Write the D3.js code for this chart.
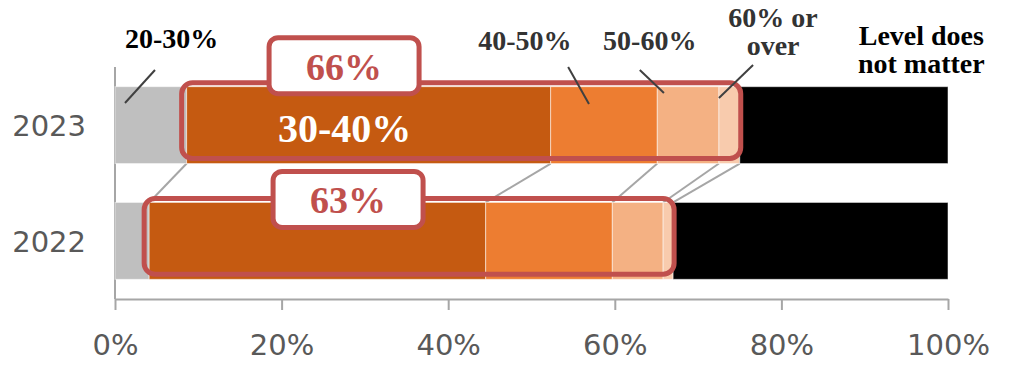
<!DOCTYPE html>
<html>
<head>
<meta charset="utf-8">
<script src="https://cdn.jsdelivr.net/npm/d3@7"></script>
<style>
  body { margin: 0; background: #fff; }
  svg { display: block; }
</style>
</head>
<body>
<div id="chart"></div>
<script>
const years = ["2023", "2022"];
const levels = ["20-30%", "30-40%", "40-50%", "50-60%", "60% or over", "Level does not matter"];
const share2023 = [8.6, 43.7, 12.8, 7.4, 2.5, 25.0];
const share2022 = [4.1, 40.4, 15.2, 6.1, 1.2, 33.0];
const totals = ["66%", "63%"];
const colors = ["#bfbfbf", "#c55a11", "#ed7d31", "#f4b183", "#f8cbad", "#000000"];
const tickValues = [0, 20, 40, 60, 80, 100];

const w = 1022;
const h = 366;

const svg = d3.select("#chart").append("svg")
  .attr("width", w)
  .attr("height", h);

// rows for the stack
const rows = years.map((yr, i) => {
  const vals = i === 0 ? share2023 : share2022;
  const row = { year: yr };
  levels.forEach((l, j) => row[l] = vals[j]);
  return row;
});
const series = d3.stack().keys(levels)(rows);

const x = d3.scaleLinear().domain([0, 100]).range([115, 948]);
const y = d3.scaleBand().domain(years).range([67, 299])
  .paddingInner(0.336).paddingOuter(0.17);

///////////////////////////// Axes

svg.append("line")
  .attr("x1", x(0)).attr("x2", x(0))
  .attr("y1", 67).attr("y2", 299)
  .attr("stroke", "#a6a6a6").attr("stroke-width", 2);

const xAxis = svg.append("g")
  .attr("transform", "translate(0,299)")
  .call(d3.axisBottom(x).tickValues(tickValues).tickSize(11).tickSizeOuter(0)
    .tickFormat(d => d + "%"));
xAxis.select(".domain").attr("stroke", "#a6a6a6").attr("stroke-width", 2);
xAxis.selectAll(".tick line").attr("stroke", "#a6a6a6").attr("stroke-width", 2);
xAxis.selectAll(".tick text")
  .attr("y", 56).attr("dy", null)
  .attr("fill", "#595959")
  .style("font-family", "'DejaVu Sans', Verdana, sans-serif")
  .style("font-size", "29px");

svg.append("g").selectAll("text")
  .data(years)
  .join("text")
  .attr("x", 86)
  .attr("y", d => y(d) + y.bandwidth() / 2 + 11)
  .attr("text-anchor", "end")
  .attr("fill", "#595959")
  .style("font-family", "'DejaVu Sans', Verdana, sans-serif")
  .style("font-size", "29px")
  .text(d => d);

///////////////////////////// Series lines between the bars

const seriesLines = d3.range(1, levels.length).map(k => ({
  a: series[k - 1][0][1],
  b: series[k - 1][1][1]
}));
svg.append("g").selectAll("line")
  .data(seriesLines)
  .join("line")
  .attr("x1", d => x(d.a))
  .attr("y1", y("2023") + y.bandwidth())
  .attr("x2", d => x(d.b))
  .attr("y2", y("2022"))
  .attr("stroke", "#a6a6a6")
  .attr("stroke-width", 2);

///////////////////////////// Bars

svg.append("g").selectAll("g")
  .data(series)
  .join("g")
  .attr("fill", (d, i) => colors[i])
  .selectAll("rect")
  .data(d => d)
  .join("rect")
  .attr("x", d => x(d[0]))
  .attr("y", d => y(d.data.year))
  .attr("width", d => x(d[1]) - x(d[0]))
  .attr("height", y.bandwidth())
  .attr("stroke", "#fff")
  .attr("stroke-opacity", 0.5)
  .attr("stroke-width", 1);

///////////////////////////// Highlight boxes

const red = "#c0504d";
years.forEach((yr, i) => {
  const x0 = series[0][i][1];
  const x1 = series[4][i][1];
  svg.append("rect")
    .attr("x", x(x0) - 5)
    .attr("y", y(yr) - 4)
    .attr("width", x(x1) - x(x0) + 6)
    .attr("height", y.bandwidth() - 1)
    .attr("rx", 11)
    .attr("fill", "none")
    .attr("stroke", red)
    .attr("stroke-width", 5);
});

const boxOffset = [-21, -3];
years.forEach((yr, i) => {
  const cy = y(yr) + boxOffset[i];
  const cx = x(27.5) + i * 4;
  svg.append("rect")
    .attr("x", cx - 75)
    .attr("y", cy - 28)
    .attr("width", 150)
    .attr("height", 56)
    .attr("rx", 9)
    .attr("fill", "#fff")
    .attr("stroke", red)
    .attr("stroke-width", 5);
  svg.append("text")
    .attr("x", cx)
    .attr("y", cy + 14)
    .attr("text-anchor", "middle")
    .attr("fill", red)
    .style("font-family", "'Liberation Serif', 'Times New Roman', serif")
    .style("font-weight", "bold")
    .style("font-size", "38px")
    .text(totals[i]);
});

///////////////////////////// Segment labels

const serif = "'Liberation Serif', 'Times New Roman', serif";

svg.append("text")
  .attr("x", x((series[1][0][0] + series[1][0][1]) / 2) - 24)
  .attr("y", y("2023") + y.bandwidth() / 2 + 17)
  .attr("text-anchor", "middle")
  .attr("fill", "#fff")
  .style("font-family", serif)
  .style("font-weight", "bold")
  .style("font-size", "40px")
  .text(levels[1]);

const callouts = [
  { lines: ["20-30%"], tx: 6.8, ty: 48, fill: "#000", from: [4.8, 70], to: [1.2, 103] },
  { lines: ["40-50%"], tx: 49.2, ty: 50, fill: "#333", from: [54.4, 67], to: [56.9, 104] },
  { lines: ["50-60%"], tx: 64.2, ty: 50, fill: "#333", from: [63.0, 70], to: [65.9, 93] },
  { lines: ["60% or", "over"], tx: 79.0, ty: 27, fill: "#333", from: [76.6, 65], to: [72.5, 98] },
  { lines: ["Level does", "not matter"], tx: 96.8, ty: 45, fill: "#000", from: null, to: null }
];

callouts.forEach(c => {
  const t = svg.append("text")
    .attr("text-anchor", "middle")
    .attr("fill", c.fill)
    .style("font-family", serif)
    .style("font-weight", "bold")
    .style("font-size", "28px");
  c.lines.forEach((ln, i) => {
    t.append("tspan")
      .attr("x", x(c.tx))
      .attr("y", c.ty + i * 28)
      .text(ln);
  });
  if (c.from) {
    svg.append("line")
      .attr("x1", x(c.from[0])).attr("y1", c.from[1])
      .attr("x2", x(c.to[0])).attr("y2", c.to[1])
      .attr("stroke", "#404040")
      .attr("stroke-width", 2);
  }
});
</script>
</body>
</html>
